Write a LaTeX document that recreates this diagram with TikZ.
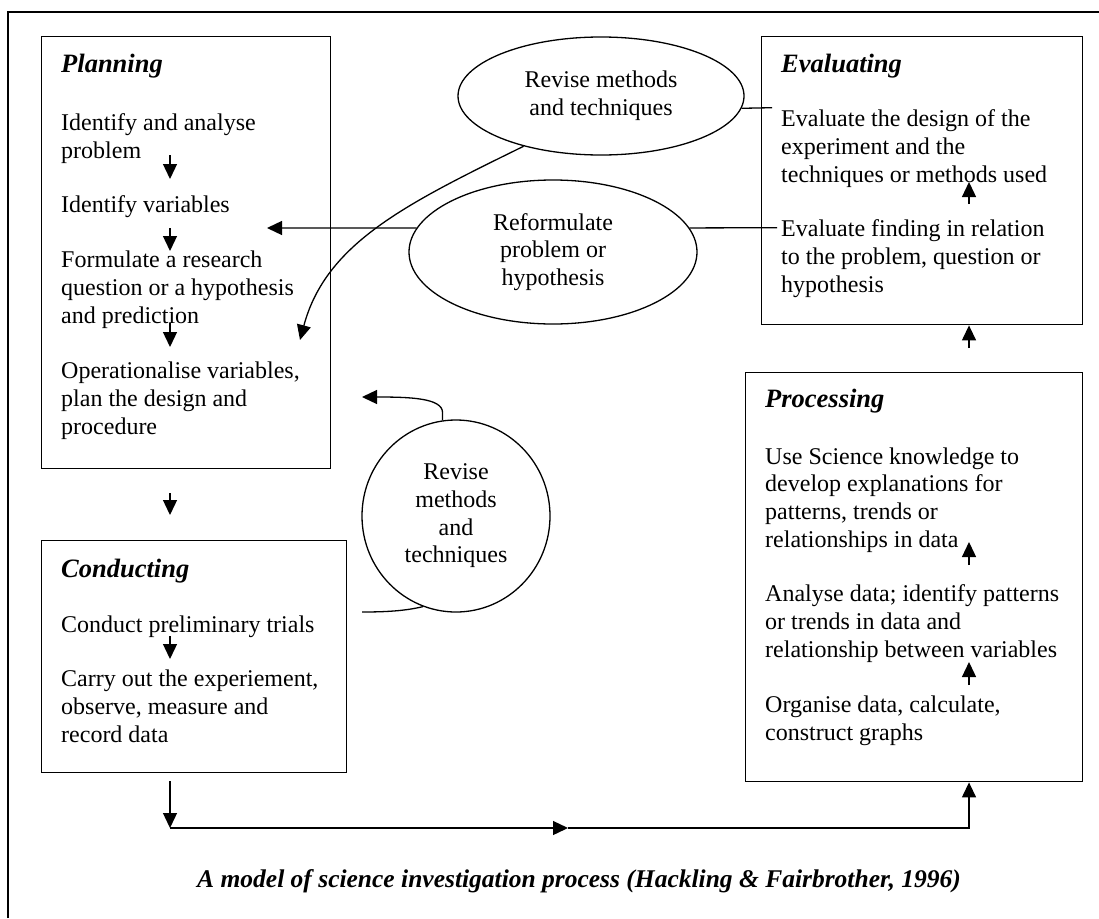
\documentclass[tikz,border=0pt]{standalone}
\usepackage{fontspec}
\setmainfont{Liberation Serif}
\usetikzlibrary{arrows.meta,shapes.geometric}

\tikzset{
  box/.style={draw, line width=1.4pt, anchor=north west, inner sep=0pt},
  txt/.style={inner sep=0pt, anchor=base west, align=left, font=\fontsize{24}{27.6}\selectfont},
  ttl/.style={inner sep=0pt, anchor=base west, font=\fontsize{26.5}{30}\selectfont\bfseries\itshape},
  bubble/.style={draw, ellipse, line width=1.3pt, inner sep=0pt, align=center, font=\fontsize{24}{27.6}\selectfont},
  arr/.style={line width=1.3pt, -{Triangle[length=15pt,width=14pt]}},
  link/.style={line width=1.3pt}
}

\begin{document}
\begin{tikzpicture}[x=1pt, y=-1pt]
        \useasboundingbox (0,0) rectangle (1099,918);

        % Outer frame
        \draw[line width=1.5pt] (8,918) -- (8,12) -- (1099,12);

        % Columns for the arrows inside the boxes
        \coordinate (col) at (170,0);
        \coordinate (col2) at (969,0);

        % Planning (text nodes sit on their last baseline)
        \node[box, minimum width=289pt, minimum height=432pt] (plan) at (41,36) {};
        \node[ttl] (plantitle) at (61,72) {Planning};
        \node[txt] (p1) at (61,158) {Identify and analyse\\problem};
        \node[txt] (p2) at (61,212) {Identify variables};
        \node[txt] (p3) at (61,323) {Formulate a research\\question or a hypothesis\\and prediction};
        \node[txt] (p4) at (61,434) {Operationalise variables,\\plan the design and\\procedure};
        \draw[arr] ([yshift=3pt]p1.base -| col) -- ([yshift=33pt]p2.base -| col);
        \draw[arr] ([yshift=-16pt]p2.base -| col) -- ([yshift=72pt]p3.base -| col);
        \draw[arr] (p3.base -| col) -- ([yshift=87pt]p4.base -| col);

        % Conducting
        \node[box, minimum width=305pt, minimum height=232pt] (cond) at (41,540) {};
        \node[ttl] (condtitle) at (61,577) {Conducting};
        \node[txt] (c1) at (61,632) {Conduct preliminary trials};
        \node[txt] (c2) at (61,742) {Carry out the experiement,\\observe, measure and\\record data};
        \draw[arr] ([yshift=-4pt]c1.base -| col) -- ([yshift=83pt]c2.base -| col);
        \draw[arr] ([yshift=-24pt]plan.south -| col) -- ([yshift=25pt]cond.north -| col);

        % Evaluating
        \node[box, minimum width=321pt, minimum height=288pt] (eval) at (761,36) {};
        \node[ttl] (evaltitle) at (781,72) {Evaluating};
        \node[txt] (e1) at (781,182) {Evaluate the design of the\\experiment and the\\techniques or methods used};
        \node[txt] (e2) at (781,292) {Evaluate finding in relation\\to the problem, question or\\hypothesis};
        \draw[arr] ([yshift=88pt]e2.base -| col2) -- (e1.base -| col2);

        % Processing
        \node[box, minimum width=337pt, minimum height=409pt] (proc) at (745,372) {};
        \node[ttl] (proctitle) at (765,407) {Processing};
        \node[txt] (r1) at (765,547) {Use Science knowledge to\\develop explanations for\\patterns, trends or\\relationships in data};
        \node[txt] (r2) at (765,657) {Analyse data; identify patterns\\or trends in data and\\relationship between variables};
        \node[txt] (r3) at (765,740) {Organise data, calculate,\\construct graphs};
        \draw[arr] ([yshift=92pt]r2.base -| col2) -- ([yshift=5pt]r1.base -| col2);
        \draw[arr] ([yshift=55pt]r3.base -| col2) -- ([yshift=-5pt]r2.base -| col2);
        \draw[arr] ([yshift=24pt]proc.north -| col2) -- (eval.south -| col2);

        % Conducting to processing
        \coordinate (turn) at (170,828);
        \coordinate (midarr) at (568,828);
        \draw[arr] ([yshift=-8pt]cond.south -| col) -- (turn);
        \draw[arr] (turn) -- (midarr);
        \draw[arr] (midarr) -- (turn -| col2) -- (proc.south -| col2);

        % Revise and reformulate loops
        \node[bubble, minimum width=286pt, minimum height=118pt] (revise) at (601,96) {Revise methods\\and techniques};
        \node[bubble, minimum width=288pt, minimum height=144pt] (reform) at (553,252) {Reformulate\\problem or\\hypothesis};
        \node[bubble, minimum width=188pt, minimum height=192pt] (circ) at (456,516) {Revise\\methods\\and\\techniques};

        \draw[link] (revise.-5) -- ([xshift=-9pt,yshift=2pt]e1.north west);
        \draw[link] (reform.10) -- ([xshift=-4pt,yshift=-8pt]e2.north west);
        \coordinate (toident) at (267,228);
        \draw[arr] (reform.170) -- (toident);
        \coordinate (toop) at (300,340);
        \draw[arr] (revise.213) .. controls (406,204) and (326,243) .. (toop);
        \coordinate (toplan) at (362,397);
        \draw[arr] (circ.98) -- ++(0,-8) .. controls (442,398) and (410,397) .. (toplan);
        \coordinate (fromtrial) at (362,612);
        \draw[link] (circ.250) .. controls (405,611) and (385,612) .. (fromtrial);

        % Caption
        \node[anchor=base, font=\fontsize{25.5}{30}\selectfont\bfseries\itshape] (caption) at (579,887)
          {A model of science investigation process (Hackling \& Fairbrother, 1996)};
\end{tikzpicture}
\end{document}
